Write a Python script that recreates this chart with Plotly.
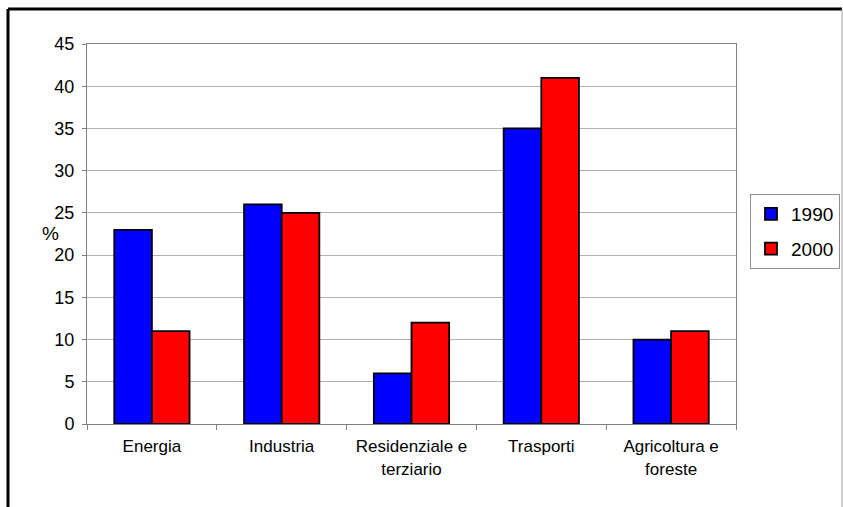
import plotly.graph_objects as go

categories = ["Energia", "Industria", "Residenziale e<br>terziario", "Trasporti", "Agricoltura e<br>foreste"]
values_1990 = [23, 26, 6, 35, 10]
values_2000 = [11, 25, 12, 41, 11]
y_ticks = [0, 5, 10, 15, 20, 25, 30, 35, 40, 45]

W, H = 843, 507
L, R, T, B = 87, 736, 44, 424

fig = go.Figure()
fig.add_trace(go.Bar(name="1990", x=categories, y=values_1990, legendgroup="a",
                     marker=dict(color="#0000FF", line=dict(color="black", width=1.8))))
fig.add_trace(go.Bar(name="2000", x=categories, y=values_2000, legendgroup="b",
                     marker=dict(color="#FF0000", line=dict(color="black", width=1.8))))

def px(x):
    return (x - L) / (R - L)

def py(y):
    return (B - y) / (B - T)

fig.update_layout(
    width=W, height=H,
    margin=dict(l=L, r=W - R, t=T, b=H - B, autoexpand=False),
    paper_bgcolor="white", plot_bgcolor="white",
    barmode="group", bargap=0.42, bargroupgap=0,
    font=dict(family="Liberation Sans, Arial, sans-serif", color="black", size=17),
    showlegend=True,
    legend=dict(x=750 / W, y=1 - 194 / H, xref="container", yref="container",
                xanchor="left", yanchor="top",
                bordercolor="#909090", borderwidth=1, bgcolor="white",
                font=dict(size=19), itemwidth=30, tracegroupgap=7),
    xaxis=dict(showline=True, linecolor="#808080", linewidth=1, mirror=True,
               ticks="outside", ticklen=5, tickcolor="#808080", tickson="boundaries",
               tickfont=dict(size=17), showgrid=False, ticklabelstandoff=7),
    yaxis=dict(range=[0, 45], tickvals=y_ticks, showline=True, linecolor="#808080",
               linewidth=1, mirror=True, ticks="outside", ticklen=4, tickcolor="#808080",
               gridcolor="#B0B0B0", gridwidth=1, tickfont=dict(size=18), zeroline=False,
               ticklabelstandoff=4),
    annotations=[dict(text="%", x=px(40), y=py(233), xref="paper", yref="paper",
                      showarrow=False, font=dict(size=19))],
    shapes=[
        dict(type="line", xref="paper", yref="paper", x0=px(8), x1=px(8), y0=py(9), y1=py(520),
             line=dict(color="black", width=3)),
        dict(type="line", xref="paper", yref="paper", x0=px(8), x1=px(842), y0=py(9), y1=py(9),
             line=dict(color="black", width=3)),
        dict(type="line", xref="paper", yref="paper", x0=px(842), x1=px(842), y0=py(9), y1=py(520),
             line=dict(color="#A0A0A0", width=1)),
    ],
)

fig.write_html("out.html")
